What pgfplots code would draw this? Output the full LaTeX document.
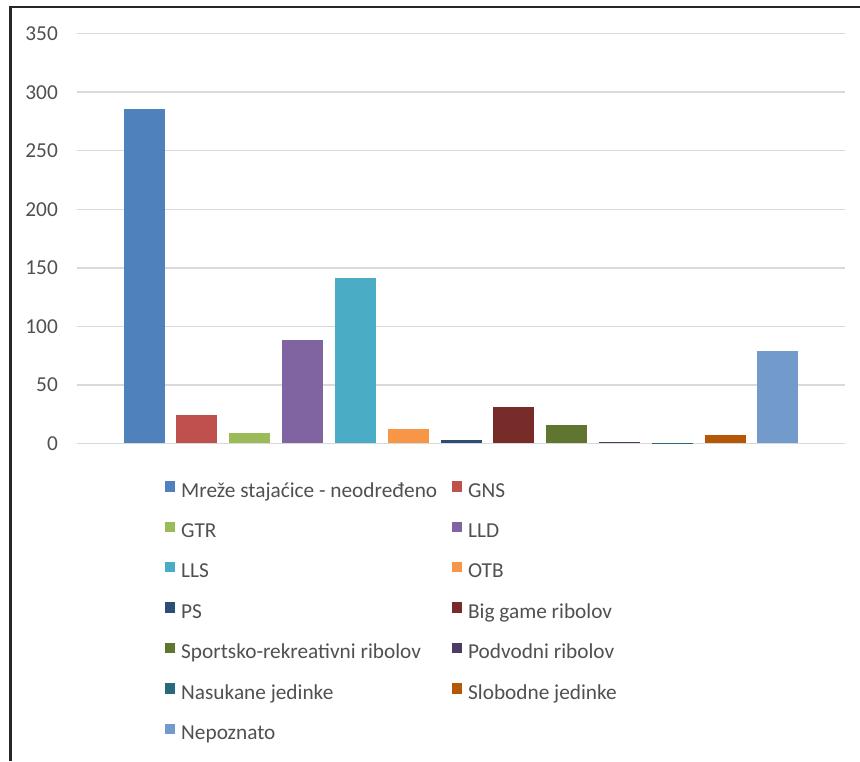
\documentclass[border=0pt]{standalone}
\usepackage{pgfplots}
\pgfplotsset{compat=1.18}
\usepackage{fontspec}
\setmainfont{Carlito}

\definecolor{cA}{HTML}{4F81BD}
\definecolor{cB}{HTML}{C0504D}
\definecolor{cC}{HTML}{9BBB59}
\definecolor{cD}{HTML}{8064A2}
\definecolor{cE}{HTML}{4BACC6}
\definecolor{cF}{HTML}{F79646}
\definecolor{cG}{HTML}{2C4D75}
\definecolor{cH}{HTML}{772C2A}
\definecolor{cI}{HTML}{5F7530}
\definecolor{cJ}{HTML}{4D3B62}
\definecolor{cK}{HTML}{276A7C}
\definecolor{cL}{HTML}{B65708}
\definecolor{cM}{HTML}{729ACA}
\definecolor{txt}{HTML}{505050}
\definecolor{gridc}{HTML}{D9D9D9}

\begin{document}
\fontsize{21.3pt}{25pt}\selectfont
\begin{tikzpicture}[x=1pt,y=1pt]
\useasboundingbox (0,0) rectangle (860,-761);
% outer chart frame
\draw[line width=2.2pt, black!85] (10.5,-761) -- (10.5,-7) -- (860,-7);
\begin{axis}[
  at={(77pt,-443.3pt)}, anchor=south west,
  scale only axis,
  width=768pt, height=409.6pt,
  ymin=0, ymax=350,
  xmin=-1.27, xmax=13.27,
  ytick={0,50,...,350},
  xtick=\empty,
  axis line style={draw=none},
  major tick length=0pt,
  ymajorgrids,
  grid style={gridc, line width=1.5pt},
  /pgf/number format/assume math mode=true,
  yticklabel style={font=\fontsize{21.3pt}{25pt}\selectfont, text=txt, inner sep=0pt, anchor=east, xshift=-19pt},
  ybar, bar width=41pt, bar shift=0pt,
  legend columns=2,
  legend cell align=left,
  legend style={
    draw=none, fill=none, inner sep=0pt,
    at={(0.1146,-0.092)}, anchor=north west,
    font=\fontsize{21.3pt}{25pt}\selectfont, text=txt,
    nodes={inner sep=0pt, text height=15pt, text depth=5pt},
    row sep=19.4pt,
    /tikz/every odd column/.append style={column sep=6pt},
    /tikz/every even column/.append style={column sep=15pt},
  },
  legend image code/.code={\fill[#1] (0pt,0.5pt) rectangle (10pt,11pt);},
]
\addplot[fill=cA, draw=none] coordinates {(0,286)};
\addlegendentry{Mreže stajaćice - neodređeno}
\addplot[fill=cB, draw=none] coordinates {(1,24)};
\addlegendentry{GNS}
\addplot[fill=cC, draw=none] coordinates {(2,9)};
\addlegendentry{GTR}
\addplot[fill=cD, draw=none] coordinates {(3,88)};
\addlegendentry{LLD}
\addplot[fill=cE, draw=none] coordinates {(4,141)};
\addlegendentry{LLS}
\addplot[fill=cF, draw=none] coordinates {(5,12)};
\addlegendentry{OTB}
\addplot[fill=cG, draw=none] coordinates {(6,2.5)};
\addlegendentry{PS}
\addplot[fill=cH, draw=none] coordinates {(7,31)};
\addlegendentry{Big game ribolov}
\addplot[fill=cI, draw=none] coordinates {(8,16)};
\addlegendentry{Sportsko-rekreativni ribolov}
\addplot[fill=cJ, draw=none] coordinates {(9,1.5)};
\addlegendentry{Podvodni ribolov}
\addplot[fill=cK, draw=none] coordinates {(10,0.5)};
\addlegendentry{Nasukane jedinke}
\addplot[fill=cL, draw=none] coordinates {(11,7)};
\addlegendentry{Slobodne jedinke}
\addplot[fill=cM, draw=none] coordinates {(12,79)};
\addlegendentry{Nepoznato}
\end{axis}
\end{tikzpicture}
\end{document}
